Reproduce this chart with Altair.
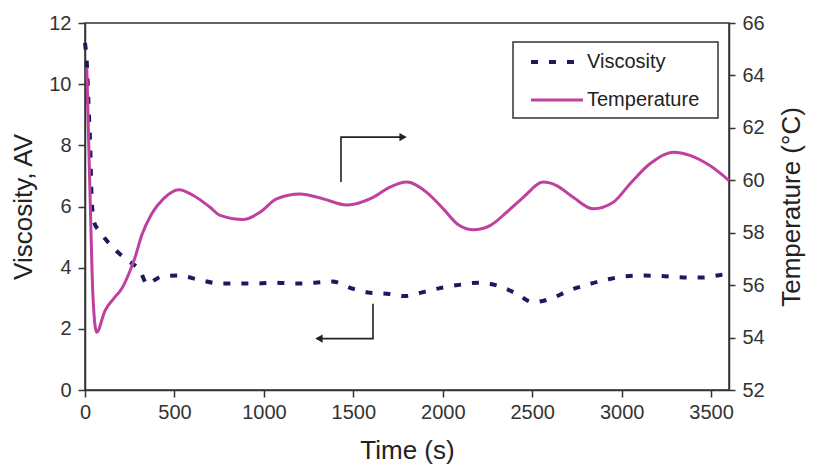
import altair as alt
import pandas as pd

# ---- data ----
time_visc = [0, 10, 22, 28, 37, 50, 80, 112, 168, 233, 307, 350, 390, 428, 522, 633, 743, 850,
             960, 1062, 1174, 1285, 1380, 1492, 1593, 1688, 1789, 1890, 2000, 2107, 2202, 2308,
             2409, 2504, 2605, 2705, 2812, 2918, 3024, 3130, 3242, 3348, 3454, 3560, 3600]
visc = [11.35, 10.7, 9.0, 8.2, 6.3, 5.5, 5.2, 4.95, 4.59, 4.26, 3.9, 3.45, 3.6, 3.71, 3.74, 3.61,
        3.49, 3.48, 3.48, 3.51, 3.48, 3.51, 3.55, 3.32, 3.18, 3.15, 3.07, 3.2, 3.35, 3.45, 3.51,
        3.41, 3.16, 2.87, 2.99, 3.25, 3.45, 3.61, 3.72, 3.74, 3.72, 3.68, 3.68, 3.77, 3.8]

time_temp = [10, 28, 45, 65, 112, 158, 205, 252, 280, 317, 373, 438, 525, 606, 699, 755,
             885, 978, 1071, 1202, 1332, 1462, 1611, 1705, 1798, 1910, 2003, 2087, 2171, 2264,
             2357, 2450, 2562, 2636, 2729, 2841, 2953, 3046, 3158, 3288, 3381, 3493, 3600]
temp = [64.3, 59.5, 55.5, 54.2, 55.03, 55.47, 55.86, 56.55, 57.06, 57.9, 58.72, 59.29, 59.64,
        59.42, 58.97, 58.66, 58.5, 58.78, 59.29, 59.48, 59.29, 59.06, 59.35, 59.74, 59.93,
        59.54, 58.91, 58.3, 58.11, 58.27, 58.78, 59.35, 59.93, 59.8, 59.35, 58.91, 59.16, 59.86,
        60.63, 61.07, 60.95, 60.56, 59.99]

series_names = ["Viscosity", "Temperature"]
series_colors = ["#1a1a5e", "#c0409f"]
x_ticks = [0, 500, 1000, 1500, 2000, 2500, 3000, 3500]
left_ticks = [0, 2, 4, 6, 8, 10, 12]
right_ticks = [52, 54, 56, 58, 60, 62, 64, 66]

# annotation arrows (time, viscosity-axis units)
arrow_id = ["up", "up", "up", "down", "down", "down"]
arrow_order = [0, 1, 2, 0, 1, 2]
arrow_t = [1431, 1431, 1790, 1610, 1610, 1295]
arrow_v = [6.8, 8.27, 8.27, 2.82, 1.68, 1.68]
head_right_t = [1778]
head_right_v = [8.27]
head_left_t = [1308]
head_left_v = [1.68]

FONT = "Liberation Sans"

visc_df = pd.DataFrame({"t": time_visc, "v": visc, "series": "Viscosity"})
temp_df = pd.DataFrame({"t": time_temp, "T": temp, "series": "Temperature"})
arrow_df = pd.DataFrame({"id": arrow_id, "o": arrow_order, "t": arrow_t, "v": arrow_v})
hr_df = pd.DataFrame({"t": head_right_t, "v": head_right_v})
hl_df = pd.DataFrame({"t": head_left_t, "v": head_left_v})
one = pd.DataFrame({"k": [0]})


def xenc():
    return alt.X("t:Q", scale=alt.Scale(domain=[0, 3600], nice=False),
                 axis=alt.Axis(values=x_ticks, format="d", title="Time (s)", tickSize=7,
                               labelPadding=5, titlePadding=15, labelFlush=False))


def yleft():
    return alt.Y("v:Q", scale=alt.Scale(domain=[0, 12], nice=False),
                 axis=alt.Axis(values=left_ticks, title="Viscosity, AV", tickSize=7,
                               labelPadding=7, titlePadding=12, labelFlush=False))


visc_line = alt.Chart(visc_df).mark_line(
    strokeWidth=4, strokeCap="butt", strokeDash=[7, 11], color=series_colors[0],
    interpolate="monotone").encode(x=xenc(), y=yleft())

arrows = alt.Chart(arrow_df).mark_line(color="#222", strokeWidth=1.6).encode(
    x=xenc(), y=yleft(), detail="id:N", order="o:Q")
head_r = alt.Chart(hr_df).mark_point(shape="triangle-right", filled=True, color="#222",
                                     size=70, opacity=1).encode(x=xenc(), y=yleft())
head_l = alt.Chart(hl_df).mark_point(shape="triangle-left", filled=True, color="#222",
                                     size=70, opacity=1).encode(x=xenc(), y=yleft())

left = alt.layer(visc_line, arrows, head_r, head_l)

temp_line = alt.Chart(temp_df).mark_line(
    strokeWidth=3, color=series_colors[1], interpolate="monotone").encode(
    x=xenc(),
    y=alt.Y("T:Q", scale=alt.Scale(domain=[52, 66], nice=False),
            axis=alt.Axis(orient="right", values=right_ticks, title="Temperature (°C)",
                          tickSize=6, labelPadding=7, titlePadding=14, titleAngle=270,
                          titleBaseline="top", labelFlush=False)))

# legend box (drawn by hand, pixel positions inside the plot area)
leg_box = alt.Chart(one).mark_rect(fill="white", stroke="#333", strokeWidth=1.5).encode(
    x=alt.value(428), x2=alt.value(633), y=alt.value(19), y2=alt.value(95))
leg_sym_v = alt.Chart(one).mark_rule(strokeWidth=4, strokeDash=[7, 11], strokeCap="butt",
                                     color=series_colors[0]).encode(
    x=alt.value(446), x2=alt.value(498), y=alt.value(39))
leg_sym_t = alt.Chart(one).mark_rule(strokeWidth=3, color=series_colors[1]).encode(
    x=alt.value(446), x2=alt.value(498), y=alt.value(77))
leg_txt_v = alt.Chart(one).mark_text(align="left", baseline="middle", font=FONT, fontSize=20,
                                     color="#222").encode(
    x=alt.value(502), y=alt.value(39), text=alt.value(series_names[0]))
leg_txt_t = alt.Chart(one).mark_text(align="left", baseline="middle", font=FONT, fontSize=20,
                                     color="#222").encode(
    x=alt.value(502), y=alt.value(77), text=alt.value(series_names[1]))

chart = alt.layer(left, temp_line, leg_box, leg_sym_v, leg_sym_t, leg_txt_v, leg_txt_t
                  ).resolve_scale(y="independent").properties(
    width=644, height=367, autosize="none",
    padding={"left": 77, "top": 15, "right": 84, "bottom": 82},
    background="white",
).configure_view(stroke="#333", strokeWidth=1.5).configure_axis(
    domainColor="#333", domainWidth=1.5, tickColor="#333", tickWidth=1.5, grid=False,
    labelFont=FONT, titleFont=FONT, labelFontSize=20, titleFontSize=26,
    titleFontWeight="normal", labelColor="#333", titleColor="#222")

chart.save("out.html", embed_options={"renderer": "svg", "actions": False})
